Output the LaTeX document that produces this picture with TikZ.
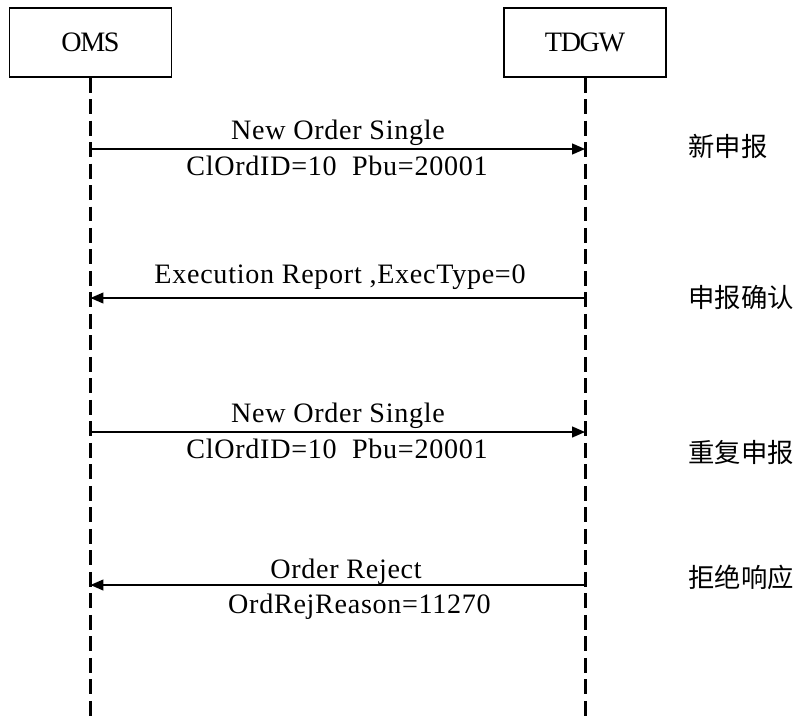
\documentclass[tikz,border=0pt]{standalone}
\usepackage{fontspec}
\setmainfont{Liberation Serif}
\newfontfamily\cjk{Noto Sans CJK SC}
\newfontfamily\msgfont[LetterSpace=2.5]{Liberation Serif}
\newfontfamily\boxfont[LetterSpace=-5]{Liberation Serif}
\usetikzlibrary{arrows.meta,calc}

\tikzset{
  actor/.style={draw,line width=.6pt,minimum width=3.24cm,minimum height=1.38cm,
    inner sep=0pt,font=\boxfont\fontsize{16}{16}\selectfont},
  life/.style={line width=1.7pt,dash pattern=on .3cm off .13cm},
  msg/.style={line width=.75pt,-{Triangle[length=.26cm,width=.22cm]}},
  msglabel/.style={anchor=base,inner sep=0pt,font=\msgfont\fontsize{16}{16}\selectfont},
  note/.style={anchor=west,inner sep=0pt,font=\cjk\fontsize{15}{15}\selectfont}
}

\begin{document}
\begin{tikzpicture}[x=.02cm,y=-.02cm]
\useasboundingbox (0,0) rectangle (800,720);

\node[actor] (OMS) at (90.5,42.5) {OMS};
\node[actor] (TDGW) at (585,42.5) {TDGW};
\coordinate (OMSend) at (90.5,720);
\coordinate (TDGWend) at (585,720);

\draw[life] (OMS.south) -- (OMSend);
\draw[life] (TDGW.south) -- (TDGWend);

% ends of the messages
\coordinate (O1) at (90.5,149); \coordinate (T1) at (585,149);
\coordinate (O2) at (90.5,298); \coordinate (T2) at (585,298);
\coordinate (O3) at (90.5,432); \coordinate (T3) at (585,432);
\coordinate (O4) at (90.5,585); \coordinate (T4) at (585,585);

\draw[msg] (O1) -- (T1);
\draw[msg] (T2) -- (O2);
\draw[msg] (O3) -- (T3);
\draw[msg] (T4) -- (O4);

\node[msglabel] (N1) at (338,139) {New Order Single};
\node[msglabel] (C1) at (337,175) {ClOrdID=10~~Pbu=20001};
\node[msglabel] (E2) at (340,283) {Execution Report ,ExecType=0};
\node[msglabel] (N3) at (338,422) {New Order Single};
\node[msglabel] (C3) at (337,458) {ClOrdID=10~~Pbu=20001};
\node[msglabel] (R4) at (346,578) {Order Reject};
\node[msglabel] (Q4) at (359.5,613) {OrdRejReason=11270};

\node[note] (S1) at (688,146) {新申报};
\node[note] (S2) at (688,297) {申报确认};
\node[note] (S3) at (688,453) {重复申报};
\node[note] (S4) at (688,577) {拒绝响应};
\end{tikzpicture}
\end{document}
